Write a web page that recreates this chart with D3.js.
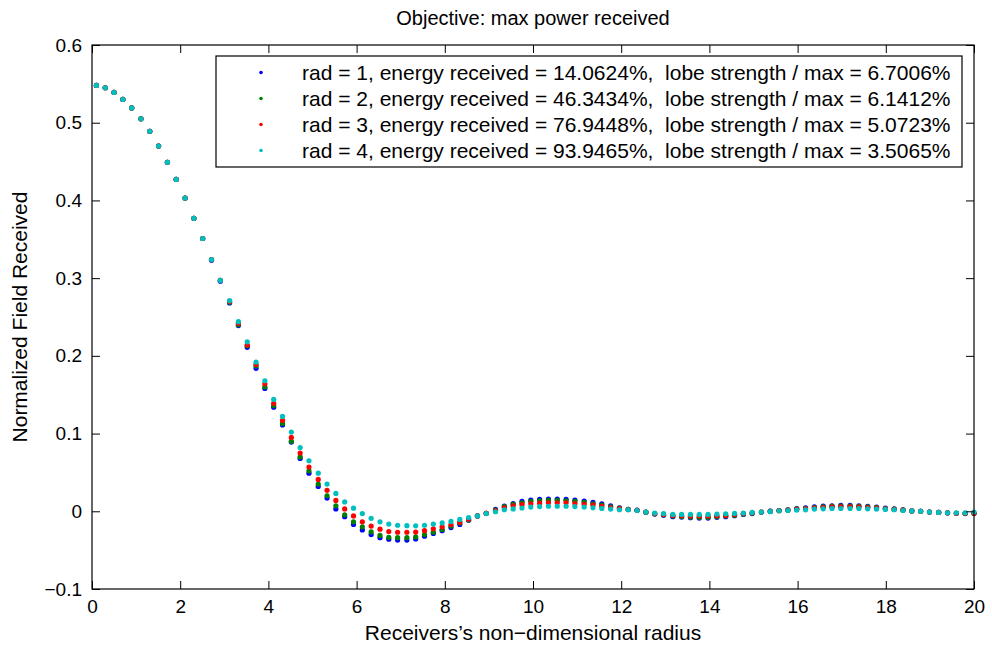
<!DOCTYPE html>
<html>
<head>
<meta charset="utf-8">
<script src="https://cdn.jsdelivr.net/npm/d3@7"></script>
<style>
  html, body { margin: 0; padding: 0; background: #fff; }
  svg { display: block; font-family: "Liberation Sans", Arial, Helvetica, sans-serif; }
</style>
</head>
<body>
<svg id="chart" width="992" height="649"></svg>
<script>
// ---------------- data ----------------
const titleText = "Objective: max power received";
const xLabelText = "Receivers\u2019s non\u2212dimensional radius";
const yLabelText = "Normalized Field Received";

const xTicks = [0, 2, 4, 6, 8, 10, 12, 14, 16, 18, 20];
const xTickLabels = ["0", "2", "4", "6", "8", "10", "12", "14", "16", "18", "20"];
const yTicks = [-0.1, 0, 0.1, 0.2, 0.3, 0.4, 0.5, 0.6];
const yTickLabels = ["\u22120.1", "0", "0.1", "0.2", "0.3", "0.4", "0.5", "0.6"];

const seriesNames = ["rad1", "rad2", "rad3", "rad4"];
const seriesColors = ["#0000ff", "#008000", "#ff0000", "#00bfbf"];
const legendLabels = [
  "rad = 1, energy received = 14.0624%,  lobe strength / max = 6.7006%",
  "rad = 2, energy received = 46.3434%,  lobe strength / max = 6.1412%",
  "rad = 3, energy received = 76.9448%,  lobe strength / max = 5.0723%",
  "rad = 4, energy received = 93.9465%,  lobe strength / max = 3.5065%"
];

const radius = [
  0.10, 0.30, 0.50, 0.70, 0.90, 1.11, 1.31, 1.51, 1.71, 1.91,
  2.11, 2.31, 2.51, 2.71, 2.91, 3.12, 3.32, 3.52, 3.72, 3.92,
  4.12, 4.32, 4.52, 4.72, 4.92, 5.13, 5.33, 5.53, 5.73, 5.93,
  6.13, 6.33, 6.53, 6.73, 6.93, 7.14, 7.34, 7.54, 7.74, 7.94,
  8.14, 8.34, 8.54, 8.74, 8.94, 9.15, 9.35, 9.55, 9.75, 9.95,
  10.15, 10.35, 10.55, 10.75, 10.95, 11.16, 11.36, 11.56, 11.76, 11.96,
  12.16, 12.36, 12.56, 12.76, 12.96, 13.17, 13.37, 13.57, 13.77, 13.97,
  14.17, 14.37, 14.57, 14.77, 14.97, 15.18, 15.38, 15.58, 15.78, 15.98,
  16.18, 16.38, 16.58, 16.78, 16.98, 17.19, 17.39, 17.59, 17.79, 17.99,
  18.19, 18.39, 18.59, 18.79, 18.99, 19.20, 19.40, 19.60, 19.80, 20.00
];

const rad1 = [
  0.548, 0.545, 0.539, 0.530, 0.519, 0.505, 0.489, 0.470, 0.449, 0.427,
  0.403, 0.377, 0.351, 0.323, 0.296, 0.268, 0.239, 0.211, 0.184, 0.158,
  0.134, 0.111, 0.089, 0.068, 0.049, 0.032, 0.017, 0.003, -0.007, -0.017,
  -0.024, -0.030, -0.034, -0.036, -0.037, -0.037, -0.0356, -0.032, -0.0285, -0.025,
  -0.021, -0.017, -0.0115, -0.006, -0.0025, 0.0024, 0.0067, 0.010, 0.0128, 0.0144,
  0.0153, 0.0157, 0.0157, 0.0153, 0.0144, 0.0131, 0.0114, 0.0097, 0.0071, 0.0045,
  0.0026, 0.0014, -0.0013, -0.0036, -0.005, -0.007, -0.0075, -0.0083, -0.0087, -0.0087,
  -0.0078, -0.007, -0.0057, -0.004, -0.003, -0.0013, 0.0002, 0.001, 0.002, 0.0036,
  0.0045, 0.0058, 0.0066, 0.0071, 0.0075, 0.0075, 0.0071, 0.0062, 0.0054, 0.004,
  0.003, 0.002, 0.0005, 0, -0.001, -0.0015, -0.002, -0.0025, -0.003, -0.0025
];
const rad2 = [
  0.548, 0.545, 0.539, 0.530, 0.519, 0.505, 0.489, 0.470, 0.449, 0.427,
  0.403, 0.377, 0.351, 0.324, 0.297, 0.269, 0.240, 0.213, 0.187, 0.160,
  0.136, 0.113, 0.090, 0.070, 0.052, 0.035, 0.020, 0.007, -0.0045, -0.0135,
  -0.020, -0.0265, -0.031, -0.0335, -0.034, -0.034, -0.033, -0.030, -0.027, -0.0235,
  -0.019, -0.015, -0.011, -0.006, -0.0025, 0.0015, 0.006, 0.009, 0.011, 0.0128,
  0.0135, 0.014, 0.014, 0.0135, 0.0128, 0.0114, 0.0097, 0.008, 0.0058, 0.004,
  0.0024, 0.0013, -0.0012, -0.0033, -0.0045, -0.006, -0.0066, -0.0075, -0.0078, -0.0078,
  -0.007, -0.006, -0.005, -0.0036, -0.0025, -0.0012, 0, 0.0009, 0.0017, 0.003,
  0.0036, 0.0049, 0.0058, 0.0062, 0.0066, 0.0066, 0.0062, 0.0058, 0.0049, 0.0036,
  0.0028, 0.0017, 0.0005, 0, -0.001, -0.0015, -0.002, -0.0025, -0.0028, -0.0025
];
const rad3 = [
  0.548, 0.545, 0.539, 0.530, 0.519, 0.505, 0.489, 0.470, 0.449, 0.427,
  0.403, 0.377, 0.351, 0.324, 0.297, 0.270, 0.242, 0.214, 0.189, 0.164,
  0.139, 0.117, 0.095, 0.075, 0.057, 0.041, 0.027, 0.014, 0.003, -0.006,
  -0.0135, -0.019, -0.023, -0.026, -0.027, -0.027, -0.0268, -0.025, -0.0225, -0.020,
  -0.017, -0.014, -0.010, -0.006, -0.0027, 0.0007, 0.0045, 0.007, 0.0085, 0.0097,
  0.0105, 0.011, 0.011, 0.011, 0.010, 0.0089, 0.008, 0.0063, 0.0045, 0.0033,
  0.0022, 0.0012, -0.001, -0.003, -0.004, -0.0053, -0.0057, -0.006, -0.006, -0.006,
  -0.0057, -0.0053, -0.004, -0.003, -0.002, -0.001, -0.0003, 0.0008, 0.0014, 0.0024,
  0.0032, 0.004, 0.0049, 0.0054, 0.0058, 0.0058, 0.0054, 0.0049, 0.004, 0.0032,
  0.0024, 0.0015, 0.0005, 0, -0.001, -0.0015, -0.002, -0.0025, -0.0025, -0.0025
];
const rad4 = [
  0.548, 0.545, 0.539, 0.530, 0.519, 0.505, 0.489, 0.470, 0.449, 0.427,
  0.403, 0.377, 0.351, 0.324, 0.297, 0.271, 0.244, 0.218, 0.192, 0.168,
  0.144, 0.122, 0.102, 0.082, 0.065, 0.049, 0.035, 0.023, 0.012, 0.004,
  -0.003, -0.009, -0.0135, -0.0165, -0.018, -0.0185, -0.0187, -0.018, -0.0165, -0.015,
  -0.013, -0.0105, -0.008, -0.006, -0.003, -0.0006, 0.002, 0.003, 0.0042, 0.0054,
  0.006, 0.0065, 0.0065, 0.0065, 0.006, 0.0054, 0.0045, 0.0037, 0.0028, 0.002,
  0.002, 0.001, -0.001, -0.0023, -0.003, -0.004, -0.004, -0.004, -0.004, -0.004,
  -0.0036, -0.0032, -0.0027, -0.0023, -0.0015, -0.001, -0.0005, 0.0007, 0.001, 0.0015,
  0.0019, 0.0028, 0.0032, 0.0036, 0.0036, 0.0036, 0.0036, 0.0032, 0.0028, 0.0024,
  0.002, 0.001, 0.0005, 0, -0.001, -0.0015, -0.002, -0.002, -0.002, -0.001
];
const seriesValues = [rad1, rad2, rad3, rad4];

// ---------------- layout ----------------
const plot = { left: 92, right: 974, top: 45, bottom: 589 };
const tickLen = 8;
const tickFont = 19, labelFont = 21, titleFont = 20, legendFont = 21;

const svg = d3.select("#chart");
const x = d3.scaleLinear().domain([0, 20]).range([plot.left, plot.right]);
const y = d3.scaleLinear().domain([-0.1, 0.6]).range([plot.bottom, plot.top]);

svg.append("rect").attr("x", 0).attr("y", 0).attr("width", 992).attr("height", 649).attr("fill", "#fff");

// data points
seriesValues.forEach((vals, si) => {
  svg.append("g").attr("class", "series-" + seriesNames[si])
    .selectAll("circle")
    .data(vals.map((v, i) => ({ r: radius[i], v })))
    .join("circle")
    .attr("cx", d => x(d.r))
    .attr("cy", d => y(d.v))
    .attr("r", 2.6)
    .attr("fill", seriesColors[si]);
});

// axes (inward ticks on all four sides)
const axisStyle = g => {
  g.select(".domain").remove();
  g.selectAll(".tick line").attr("stroke", "#000").attr("stroke-width", 1);
  g.selectAll("text").attr("font-size", tickFont).attr("fill", "#000")
    .attr("font-family", "Liberation Sans, Arial, sans-serif");
};
const xLab = d3.scaleOrdinal().domain(xTicks).range(xTickLabels);
const yLab = d3.scaleOrdinal().domain(yTicks).range(yTickLabels);

svg.append("g").attr("transform", `translate(0,${plot.bottom})`)
  .call(d3.axisBottom(x).tickValues(xTicks).tickFormat(d => xLab(d)).tickSizeInner(-tickLen).tickPadding(11))
  .call(axisStyle);
svg.append("g").attr("transform", `translate(0,${plot.top})`)
  .call(d3.axisTop(x).tickValues(xTicks).tickFormat("").tickSizeInner(-tickLen))
  .call(axisStyle);
svg.append("g").attr("transform", `translate(${plot.left},0)`)
  .call(d3.axisLeft(y).tickValues(yTicks).tickFormat(d => yLab(d)).tickSizeInner(-tickLen).tickPadding(10))
  .call(axisStyle);
svg.append("g").attr("transform", `translate(${plot.right},0)`)
  .call(d3.axisRight(y).tickValues(yTicks).tickFormat("").tickSizeInner(-tickLen))
  .call(axisStyle);

// frame
svg.append("rect")
  .attr("x", plot.left).attr("y", plot.top)
  .attr("width", plot.right - plot.left).attr("height", plot.bottom - plot.top)
  .attr("fill", "none").attr("stroke", "#000").attr("stroke-width", 1.2);

// title & labels
svg.append("text").attr("x", (plot.left + plot.right) / 2).attr("y", 25)
  .attr("text-anchor", "middle").attr("font-size", titleFont).text(titleText);
svg.append("text").attr("x", (plot.left + plot.right) / 2).attr("y", 640)
  .attr("text-anchor", "middle").attr("font-size", labelFont).text(xLabelText);
svg.append("text").attr("transform", `translate(27,${(plot.top + plot.bottom) / 2}) rotate(-90)`)
  .attr("text-anchor", "middle").attr("font-size", labelFont).text(yLabelText);

// legend
const legend = { x: 216, y: 56, w: 746, h: 111, rowY0: 72.5, rowGap: 26, markerX: 261, textX: 302 };
svg.append("rect").attr("x", legend.x).attr("y", legend.y).attr("width", legend.w).attr("height", legend.h)
  .attr("fill", "#fff").attr("stroke", "#000").attr("stroke-width", 1.2);
const rows = svg.append("g").selectAll("g").data(legendLabels).join("g")
  .attr("transform", (d, i) => `translate(0,${legend.rowY0 + i * legend.rowGap})`);
rows.append("circle").attr("cx", legend.markerX).attr("cy", 0).attr("r", 1.8)
  .attr("fill", (d, i) => seriesColors[i]);
rows.append("text").attr("x", legend.textX).attr("y", 7.5).attr("font-size", legendFont)
  .style("white-space", "pre").attr("xml:space", "preserve").text(d => d);
</script>
</body>
</html>
